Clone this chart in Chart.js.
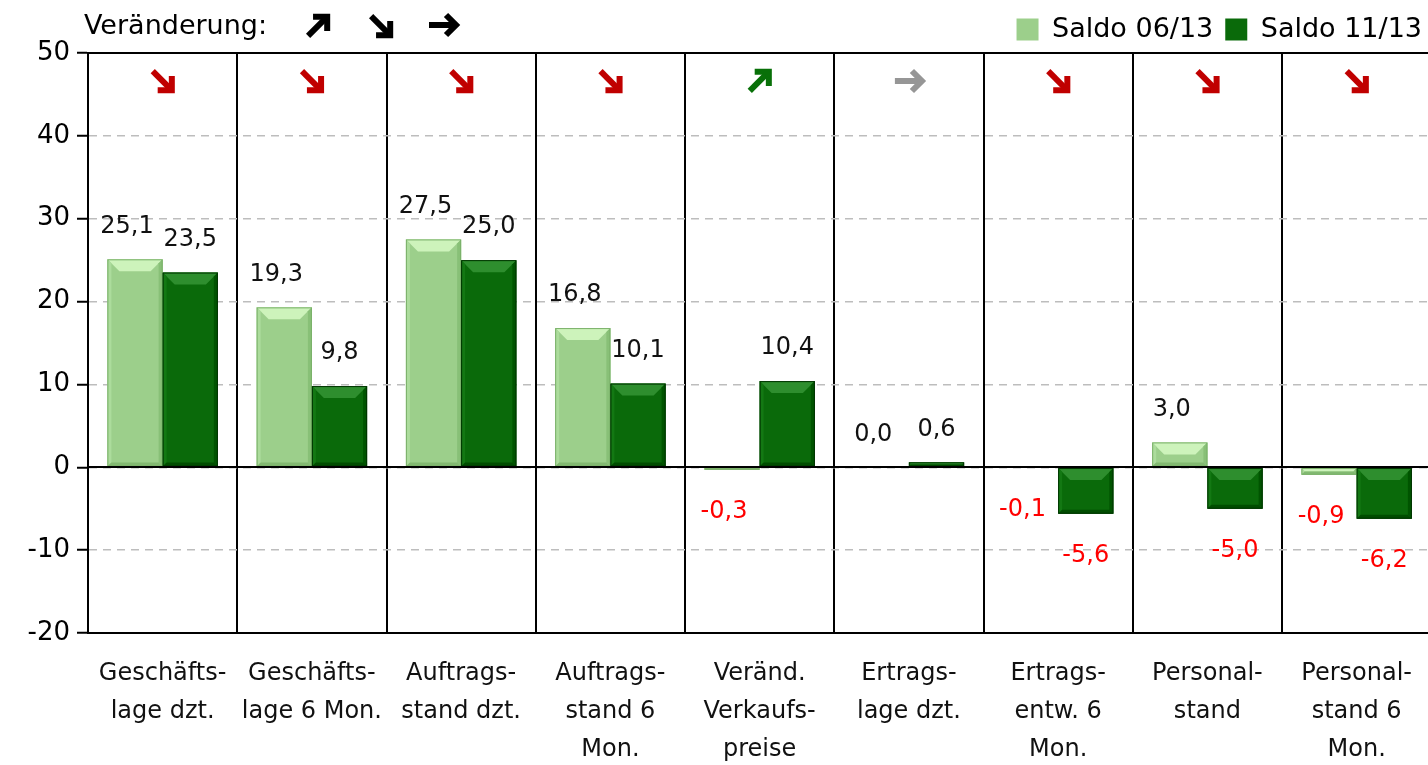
<!DOCTYPE html>
<html>
<head>
<meta charset="utf-8">
<script src="https://cdn.jsdelivr.net/npm/chart.js@4.4.1/dist/chart.umd.min.js"></script>
<style>
  html, body { margin: 0; padding: 0; background: #fff; overflow: hidden; }
  #wrap { width: 1434px; height: 765px; position: relative; }
</style>
</head>
<body>
<div id="wrap"><canvas id="saldoChart"></canvas></div>
<script>
// categories (multi-line labels)
const categories = [
    ["Geschäfts-", "lage dzt."],
    ["Geschäfts-", "lage 6 Mon."],
    ["Auftrags-", "stand dzt."],
    ["Auftrags-", "stand 6", "Mon."],
    ["Veränd.", "Verkaufs-", "preise"],
    ["Ertrags-", "lage dzt."],
    ["Ertrags-", "entw. 6", "Mon."],
    ["Personal-", "stand"],
    ["Personal-", "stand 6", "Mon."]
];
const saldo0613 = [25.1, 19.3, 27.5, 16.8, -0.3, 0.0, -0.1, 3.0, -0.9];
const saldo1113 = [23.5, 9.8, 25.0, 10.1, 10.4, 0.6, -5.6, -5.0, -6.2];
const trend = ["down", "down", "down", "down", "up", "flat", "down", "down", "down"];
const yTicks = [-20, -10, 0, 10, 20, 30, 40, 50];

const FONT = "'DejaVu Sans', sans-serif";
const arrowAngle = { up: -Math.PI / 4, down: Math.PI / 4, flat: 0 };
const arrowColor = { up: "#087008", down: "#c00000", flat: "#969696" };

const shades = [
    { face: "#9ccf8b", top: "#cdf3bb", left: "#acdc9c", right: "#88c077", bottom: "#82b971", edge: "#7ab069" },
    { face: "#0a6a0a", top: "#2e8e2e", left: "#137813", right: "#005400", bottom: "#004d00", edge: "#003300" }
];

const fmt = (v) => v.toFixed(1).replace(".", ",");

function poly(ctx, pts, color) {
    ctx.beginPath();
    ctx.moveTo(pts[0][0], pts[0][1]);
    for (let k = 1; k < pts.length; k++) ctx.lineTo(pts[k][0], pts[k][1]);
    ctx.closePath();
    ctx.fillStyle = color;
    ctx.fill();
}

function drawArrow(ctx, cx, cy, angle, color) {
    ctx.save();
    ctx.translate(cx, cy);
    ctx.rotate(angle);
    ctx.strokeStyle = color;
    ctx.lineWidth = 6;
    ctx.lineCap = "butt";
    ctx.lineJoin = "miter";
    ctx.beginPath();
    ctx.moveTo(-14, 0);
    ctx.lineTo(11, 0);
    ctx.stroke();
    ctx.beginPath();
    ctx.moveTo(3, -10);
    ctx.lineTo(13, 0);
    ctx.lineTo(3, 10);
    ctx.stroke();
    ctx.restore();
}

// fake Excel bevel on every bar
const bevel = {
    id: "bevel",
    afterDatasetsDraw(chart) {
        const ctx = chart.ctx;
        ctx.save();
        chart.data.datasets.forEach((ds, di) => {
            const pal = shades[di];
            chart.getDatasetMeta(di).data.forEach((bar) => {
                const l = bar.x - bar.width / 2, r = bar.x + bar.width / 2;
                const t = Math.min(bar.y, bar.base), b = Math.max(bar.y, bar.base);
                const h = b - t;
                if (h < 1) return;
                const d = Math.min(12, h / 2, bar.width / 2);
                const s = Math.min(4, h / 2);
                poly(ctx, [[l, t], [r, t], [r - d, t + d], [l + d, t + d]], pal.top);
                poly(ctx, [[l, t], [l + s, t + s], [l + s, b - s], [l, b]], pal.left);
                poly(ctx, [[r, t], [r, b], [r - s, b - s], [r - s, t + s]], pal.right);
                poly(ctx, [[l, b], [l + s, b - s], [r - s, b - s], [r, b]], pal.bottom);
                ctx.strokeStyle = pal.edge;
                ctx.lineWidth = 1;
                ctx.strokeRect(l + 0.5, t + 0.5, r - l - 1, Math.max(h - 1, 0.5));
            });
        });
        ctx.restore();
    }
};

const extras = {
    id: "extras",
    afterDraw(chart) {
        const ctx = chart.ctx;
        const area = chart.chartArea;
        const ys = chart.scales.y, xs = chart.scales.x;
        ctx.save();

        // solid zero line and top line
        ctx.strokeStyle = "#000";
        ctx.lineWidth = 2;
        [0, yTicks[yTicks.length - 1]].forEach((v) => {
            const py = Math.round(ys.getPixelForValue(v));
            ctx.beginPath();
            ctx.moveTo(area.left, py);
            ctx.lineTo(area.right, py);
            ctx.stroke();
        });

        // value labels
        ctx.font = "24px " + FONT;
        ctx.textAlign = "center";
        ctx.textBaseline = "middle";
        chart.data.datasets.forEach((ds, di) => {
            chart.getDatasetMeta(di).data.forEach((bar, i) => {
                const v = ds.data[i];
                const top = Math.min(bar.y, bar.base), bottom = Math.max(bar.y, bar.base);
                const x = bar.x + (di === 0 ? -8 : 0);
                ctx.fillStyle = v < 0 ? "#ff0000" : "#111";
                ctx.fillText(fmt(v), x, v < 0 ? bottom + 42 : top - 33);
            });
        });

        // trend arrows per category
        trend.forEach((t, i) => {
            drawArrow(ctx, xs.getPixelForValue(i), area.top + 28, arrowAngle[t], arrowColor[t]);
        });

        // header text
        ctx.fillStyle = "#000";
        ctx.textAlign = "left";
        ctx.font = "27px " + FONT;
        ctx.fillText("Veränderung:", 84, 27);
        drawArrow(ctx, 318, 26, arrowAngle.up, "#000");
        drawArrow(ctx, 381, 26, arrowAngle.down, "#000");
        drawArrow(ctx, 443, 25, arrowAngle.flat, "#000");
        ctx.restore();
    }
};

new Chart(document.getElementById("saldoChart"), {
    type: "bar",
    data: {
        labels: categories,
        datasets: [{
            label: "Saldo 06/13",
            data: saldo0613,
            backgroundColor: shades[0].face,
            borderWidth: 0,
            categoryPercentage: 0.74,
            barPercentage: 1.0
        }, {
            label: "Saldo 11/13",
            data: saldo1113,
            backgroundColor: shades[1].face,
            borderWidth: 0,
            categoryPercentage: 0.74,
            barPercentage: 1.0
        }]
    },
    options: {
        responsive: true,
        maintainAspectRatio: false,
        animation: false,
        layout: { padding: { top: 4, right: 0, bottom: 0, left: 0 } },
        scales: {
            x: {
                afterFit: (scale) => { scale.height = 132; },
                grid: { color: "#000", lineWidth: 2, drawTicks: false, offset: true },
                border: { color: "#000", width: 2 },
                ticks: {
                    maxRotation: 0,
                    autoSkip: false,
                    padding: 22,
                    color: "#111",
                    font: { family: FONT, size: 24, lineHeight: 1.58 }
                }
            },
            y: {
                min: yTicks[0],
                max: yTicks[yTicks.length - 1],
                afterFit: (scale) => { scale.width = 88; },
                grid: { color: "#bdbdbd", lineWidth: 1.5, tickColor: "#000", tickLength: 11, tickWidth: 2, tickBorderDash: [] },
                border: { color: "#000", width: 2, dash: [8, 6] },
                ticks: {
                    stepSize: 10,
                    padding: 7,
                    color: "#000",
                    font: { family: FONT, size: 26 }
                }
            }
        },
        plugins: {
            legend: {
                display: true,
                position: "top",
                align: "end",
                labels: {
                    boxWidth: 22,
                    boxHeight: 22,
                    padding: 12,
                    color: "#000",
                    font: { family: FONT, size: 27 }
                }
            },
            tooltip: { enabled: false }
        }
    },
    plugins: [bevel, extras]
});
</script>
</body>
</html>
